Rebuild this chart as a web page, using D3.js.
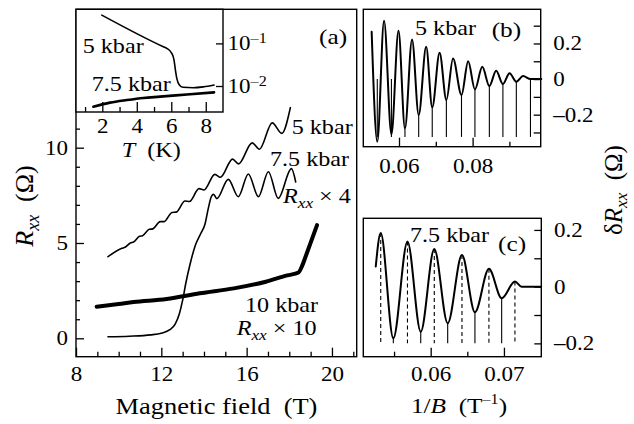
<!DOCTYPE html>
<html>
<head>
<meta charset="utf-8">
<script src="https://cdnjs.cloudflare.com/ajax/libs/d3/7.8.5/d3.min.js"></script>
<style>
  body { margin: 0; background: #fff; }
  svg text { font-family: 'Liberation Serif', 'Times New Roman', serif; fill: #000; }
</style>
</head>
<body>
<div id="chart"></div>
<script>
// (a) R_xx vs magnetic field, [B (T), R (Ohm)]
var rxx5 = [[9.5,4.28],[10.15,4.72],[10.3,4.78],[10.55,5.0],[10.7,5.05],[10.98,5.35],[11.12,5.38],
  [11.44,5.72],[11.6,5.74],[11.95,6.12],[12.12,6.12],[12.5,6.6],[12.7,6.62],[13.11,7.2],[13.32,7.18],
  [13.77,7.85],[14.0,7.78],[14.51,8.6],[14.77,8.45],[15.34,9.4],[15.62,9.15],[16.26,10.25],[16.6,9.92],
  [17.2,11.3],[17.65,10.75],[18.05,12.1]];
var rxx75 = [[9.5,0.08],[10.5,0.11],[11.5,0.18],[12.0,0.27],[12.4,0.45],[12.65,0.75],[12.85,1.3],
  [13.0,2.0],[13.15,2.9],[13.35,3.9],[13.6,4.9],[13.85,5.5],[14.05,6.0],[14.2,6.8],[14.35,7.45],
  [14.45,7.55],[14.6,7.33],[15.14,8.34],[15.61,7.43],[16.08,8.62],[16.55,7.43],[17.02,8.74],
  [17.48,7.34],[18.1,8.9],[18.3,8.2]];
var rxx10 = [[8.97,1.66],[10.0,1.8],[10.7,1.9],[12.25,2.06],[13.8,2.36],[15.4,2.62],[16.9,2.97],
  [17.9,3.3],[18.43,3.45],[18.6,3.8],[18.8,4.4],[19.3,5.94]];

// inset: R vs T (K), log scale
var ins5 = [[1.97,0.46],[5.54,0.0832],[5.74,0.0764],[6.03,0.0583],[6.16,0.0407],[6.24,0.0237],
  [6.32,0.0151],[6.47,0.01054],[6.67,0.00933],[7.28,0.00912],[7.86,0.00955],[8.48,0.01054]];
var ins75 = [[1.48,0.00327],[2.45,0.00407],[3.42,0.00468],[4.38,0.00525],[5.35,0.00562],
  [6.9,0.00631],[8.48,0.00708]];

// (b) 5 kbar oscillations, [1/B, dR]
var osc5 = [[0.05257,0.266],[0.0541,-0.352],[0.05594,0.328],[0.05794,-0.31],[0.05986,0.271],
  [0.06162,-0.277],[0.06354,0.223],[0.06535,-0.202],[0.06738,0.181],[0.06903,-0.159],[0.07103,0.148],
  [0.07287,-0.118],[0.07468,0.116],[0.07698,-0.09],[0.07879,0.1],[0.08063,-0.058],[0.08263,0.069],
  [0.08455,-0.039],[0.08639,0.047],[0.08823,-0.028],[0.09004,0.032],[0.09188,-0.015],[0.09372,0.017],
  [0.09572,0],[0.09866,0]];
// markers at the minima, [1/B, top of line]
var osc5Marks = [[0.0541,0],[0.05794,0],[0.06162,-0.277],[0.06535,-0.202],[0.06903,-0.159],
  [0.07287,-0.118],[0.07698,-0.09],[0.08063,-0.058],[0.08455,-0.039],[0.08823,-0.028],
  [0.09188,-0.015],[0.09572,0]];

// (c) 7.5 kbar oscillations
var osc75 = [[0.0525,0.071],[0.05318,0.189],[0.0549,-0.182],[0.05683,0.159],[0.05864,-0.159],
  [0.06049,0.133],[0.06232,-0.129],[0.06427,0.112],[0.06604,-0.09],[0.06795,0.063],[0.06969,-0.041],
  [0.0715,0.018],[0.07241,0],[0.07509,0]];
var osc75Peaks = [[0.05318,0.189],[0.05683,0.159],[0.06049,0.133],[0.06427,0.112],[0.06795,0.063],[0.0715,0.018]];
var osc75Mins = [[0.0549,-0.182],[0.05864,-0.159],[0.06232,-0.129],[0.06604,-0.09],[0.06969,-0.041]];

// ticks
var mainXMajor = [8,12,16,20], mainXMinor = [9,10,11,13,14,15,17,18,19,21];
var mainYMajor = [0,5,10], mainYMinor = [1,2,3,4,6,7,8,9,11];
var insXMajor = [2,4,6,8], insXMinor = [1,3,5,7], insYMajor = [0.1,0.01];
var bXMajor = [0.06,0.08], bXMinor = [0.07,0.09];
var cXMajor = [0.06,0.07], cXMinor = [0.055,0.065];
var dRMajor = [0.2,0,-0.2], bYMinor = [0.3,0.1,-0.1,-0.3], cYMinor = [0.1,-0.1];

var W = 634, H = 424, SX = 1.15;
var svg = d3.select("#chart").append("svg").attr("width", W).attr("height", H);

// scales (domains set to the frame edges)
var x = d3.scaleLinear().domain([8, 21.16]).range([76, 356.7]);
var y = d3.scaleLinear().domain([-0.965, 17.26]).range([356.7, 9.3]);
var xi = d3.scaleLinear().domain([0.474, 9.0]).range([76, 223]);
var yi = d3.scaleLog().domain([Math.pow(10, -2.61), Math.pow(10, -0.2)]).range([112, 9.3]);
var xb = d3.scaleLinear().domain([0.0503, 0.0985]).range([363.3, 540.7]);
var yb = d3.scaleLinear().domain([-0.38, 0.392]).range([146.7, 9.3]);
var xc = d3.scaleLinear().domain([0.0508, 0.0751]).range([363.3, 541.3]);
var yc = d3.scaleLinear().domain([-0.247, 0.241]).range([356.7, 218.3]);

function frame(sx, sy, fill) {
  svg.append("rect")
    .attr("x", sx.range()[0]).attr("y", sy.range()[1])
    .attr("width", sx.range()[1] - sx.range()[0]).attr("height", sy.range()[0] - sy.range()[1])
    .attr("fill", fill || "none").attr("stroke", "#000").attr("stroke-width", 1.4);
}

function axis(gen, tx, ty, vals, size, fmt, pad) {
  var g = svg.append("g").attr("transform", "translate(" + tx + "," + ty + ")")
    .call(gen.tickValues(vals).tickSizeInner(-size).tickSizeOuter(0).tickPadding(pad || 0)
      .tickFormat(fmt || function () { return ""; }));
  g.select(".domain").remove();
  g.attr("font-family", null).attr("font-size", 20);
  g.selectAll("line").attr("stroke", "#000").attr("stroke-width", 1.3);
  g.selectAll("text").attr("transform", "scale(" + SX + ",1)");
  return g;
}

function curve(data, sx, sy, w) {
  svg.append("path").datum(data)
    .attr("d", d3.line().x(function (d) { return sx(d[0]); }).y(function (d) { return sy(d[1]); })
      .curve(d3.curveMonotoneX))
    .attr("fill", "none").attr("stroke", "#000").attr("stroke-width", w)
    .attr("stroke-linejoin", "round").attr("stroke-linecap", "round");
}

function note(tx, ty, fs, parts, anchor) {
  var t = svg.append("text").attr("transform", "translate(" + tx + "," + ty + ") scale(" + SX + ",1)")
    .attr("font-size", fs).attr("text-anchor", anchor || "start");
  parts.forEach(function (p) {
    var s = t.append("tspan").text(p[0]);
    if (p[1]) s.attr("font-style", "italic");
    if (p[2]) s.attr("dy", p[2]);
    if (p[3]) s.attr("font-size", p[3]);
  });
  return t;
}

function vtitle(tx, ty, fs, parts) {
  var t = svg.append("text").attr("transform", "translate(" + tx + "," + ty + ") rotate(-90)")
    .attr("font-size", fs).attr("text-anchor", "middle");
  parts.forEach(function (p) {
    var s = t.append("tspan").text(p[0]);
    if (p[1]) s.attr("font-style", "italic");
    if (p[2]) s.attr("dy", p[2]);
    if (p[3]) s.attr("font-size", p[3]);
  });
}

var fmtR = function (d) { return d === 0 ? "0" : (d < 0 ? "\u2013" : "") + d3.format(".1f")(Math.abs(d)); };

// ---- panel (a)
frame(x, y);
axis(d3.axisLeft(y), 76, 0, mainYMinor, 4);
axis(d3.axisLeft(y), 76, 0, mainYMajor, 8, d3.format("d"), 7);
axis(d3.axisBottom(x), 0, 356.7, mainXMinor, 5);
axis(d3.axisBottom(x), 0, 356.7, mainXMajor, 9, d3.format("d"), 10);

curve(rxx10, x, y, 4);
curve(rxx75, x, y, 1.6);
curve(rxx5, x, y, 1.6);

note(291.7, 134, 21, [["5 kbar"]]);
note(270, 166, 21, [["7.5 kbar"]]);
note(283, 203, 21, [["R", 1], ["xx", 1, 5, 15], ["\u00a0\u00d7 4", 0, -5, 21]]);
note(245, 311.7, 21, [["10 kbar"]]);
note(236.7, 335, 21, [["R", 1], ["xx", 1, 5, 15], ["\u00a0\u00d7 10", 0, -5, 21]]);
note(319, 44, 22, [["(a)"]]);

// inset
frame(xi, yi, "#fff");
axis(d3.axisBottom(xi), 0, 112, insXMinor, 5);
axis(d3.axisBottom(xi), 0, 112, insXMajor, 10, d3.format("d"), 7);
var gi = axis(d3.axisRight(yi), 223, 0, insYMajor, 7, function () { return "10"; }, 4);
gi.selectAll("text").append("tspan").attr("dy", "-0.5em").attr("font-size", 14)
  .text(function (d) { return "\u2013" + Math.round(-Math.log10(d)); });
curve(ins5, xi, yi, 1.6);
curve(ins75, xi, yi, 2.6);
note(82.7, 53, 21, [["5 kbar"]]);
note(91.7, 91, 21, [["7.5 kbar"]]);
note(121.7, 157, 21, [["T", 1], ["\u00a0\u00a0(K)"]]);

// ---- panel (b)
frame(xb, yb);
axis(d3.axisRight(yb), 540.7, 0, bYMinor, 7);
axis(d3.axisRight(yb), 540.7, 0, dRMajor, 7, fmtR, 11);
axis(d3.axisBottom(xb), 0, 146.7, bXMinor, 5);
axis(d3.axisBottom(xb), 0, 146.7, bXMajor, 9, d3.format(".2f"), 12);
svg.append("g").selectAll("line").data(osc5Marks).join("line")
  .attr("x1", function (d) { return xb(d[0]); }).attr("x2", function (d) { return xb(d[0]); })
  .attr("y1", function (d) { return yb(d[1]); }).attr("y2", yb(-0.325))
  .attr("stroke", "#000").attr("stroke-width", 1.1);
curve(osc5, xb, yb, 2);
note(415, 35, 21, [["5 kbar"]]);
note(491.7, 37, 22, [["(b)"]]);

// ---- panel (c)
frame(xc, yc);
axis(d3.axisRight(yc), 541.3, 0, cYMinor, 7);
axis(d3.axisRight(yc), 541.3, 0, dRMajor, 7, fmtR, 11);
axis(d3.axisBottom(xc), 0, 356.7, cXMinor, 5);
axis(d3.axisBottom(xc), 0, 356.7, cXMajor, 9, d3.format(".2f"), 10);
svg.append("g").selectAll("line").data(osc75Peaks).join("line")
  .attr("x1", function (d) { return xc(d[0]); }).attr("x2", function (d) { return xc(d[0]); })
  .attr("y1", function (d) { return yc(d[1]); }).attr("y2", yc(-0.2))
  .attr("stroke", "#000").attr("stroke-width", 1.1).attr("stroke-dasharray", "4,3");
svg.append("g").selectAll("line").data(osc75Mins).join("line")
  .attr("x1", function (d) { return xc(d[0]); }).attr("x2", function (d) { return xc(d[0]); })
  .attr("y1", function (d) { return yc(d[1]); }).attr("y2", yc(-0.2))
  .attr("stroke", "#000").attr("stroke-width", 1.1);
curve(osc75, xc, yc, 2);
note(410, 241.7, 21, [["7.5 kbar"]]);
note(498, 251, 22, [["(c)"]]);

// ---- axis titles
note(216.5, 414, 23, [["Magnetic field\u00a0\u00a0(T)"]], "middle");
note(459, 413, 22, [["1/"], ["B", 1], ["\u00a0\u00a0(T"], ["\u20131", 0, -9, 14], [")", 0, 9, 22]], "middle");
vtitle(33, 206, 26, [["R", 1], ["xx", 1, 6, 18], ["\u00a0\u00a0(\u03a9)", 0, -6, 26]]);
vtitle(622, 190, 25, [["\u03b4"], ["R", 1], ["xx", 1, 5, 17], ["\u00a0\u00a0(\u03a9)", 0, -5, 25]]);
</script>
</body>
</html>
